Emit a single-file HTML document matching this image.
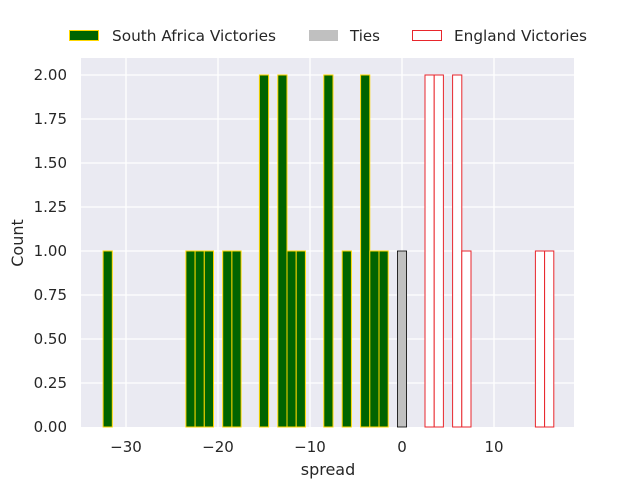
<!DOCTYPE html>
<html><head><meta charset="utf-8"><style>body{margin:0;background:#fff}svg{display:block}</style></head>
<body>
<svg width="640" height="480" xmlns="http://www.w3.org/2000/svg" font-family="DejaVu Sans, Liberation Sans, sans-serif" fill="#262626">
<rect width="640" height="480" fill="#fff"/>
<rect x="81" y="58" width="493" height="369" fill="#eaeaf2"/>
<g stroke="#fff" stroke-width="1.3">
<line x1="126" y1="58" x2="126" y2="427"/><line x1="218" y1="58" x2="218" y2="427"/><line x1="310" y1="58" x2="310" y2="427"/><line x1="402" y1="58" x2="402" y2="427"/><line x1="494" y1="58" x2="494" y2="427"/>
<line x1="81" y1="75" x2="574" y2="75"/><line x1="81" y1="119" x2="574" y2="119"/><line x1="81" y1="163" x2="574" y2="163"/><line x1="81" y1="207" x2="574" y2="207"/><line x1="81" y1="251" x2="574" y2="251"/><line x1="81" y1="295" x2="574" y2="295"/><line x1="81" y1="339" x2="574" y2="339"/><line x1="81" y1="383" x2="574" y2="383"/>
</g>
<g fill="#006400" stroke="#ffd700" stroke-width="1">
<rect x="103.1" y="251" width="9.2" height="176"/>
<rect x="185.9" y="251" width="9.2" height="176"/><rect x="195.1" y="251" width="9.2" height="176"/><rect x="204.3" y="251" width="9.2" height="176"/>
<rect x="222.7" y="251" width="9.2" height="176"/><rect x="231.9" y="251" width="9.2" height="176"/>
<rect x="259.4" y="75" width="9.2" height="352"/>
<rect x="277.8" y="75" width="9.2" height="352"/>
<rect x="287" y="251" width="9.2" height="176"/><rect x="296.2" y="251" width="9.2" height="176"/>
<rect x="323.8" y="75" width="9.2" height="352"/>
<rect x="342.2" y="251" width="9.2" height="176"/>
<rect x="360.6" y="75" width="9.2" height="352"/>
<rect x="369.8" y="251" width="9.2" height="176"/><rect x="379" y="251" width="9.2" height="176"/>
</g>
<rect x="397.4" y="251" width="9.2" height="176" fill="#c0c0c0" stroke="#000" stroke-width="0.8"/>
<g fill="#fff" stroke="#e8262c" stroke-width="1">
<rect x="425" y="75" width="9.2" height="352"/><rect x="434.2" y="75" width="9.2" height="352"/>
<rect x="452.6" y="75" width="9.2" height="352"/>
<rect x="461.8" y="251" width="9.2" height="176"/>
<rect x="535.4" y="251" width="9.2" height="176"/><rect x="544.6" y="251" width="9.2" height="176"/>
</g>
<g font-size="15" text-anchor="end">
<text x="67" y="80">2.00</text><text x="67" y="124">1.75</text><text x="67" y="168">1.50</text><text x="67" y="212">1.25</text><text x="67" y="256">1.00</text><text x="67" y="300">0.75</text><text x="67" y="344">0.50</text><text x="67" y="388">0.25</text><text x="67" y="432">0.00</text>
</g>
<g font-size="15" text-anchor="middle">
<text x="126" y="452">−30</text><text x="218" y="452">−20</text><text x="310" y="452">−10</text><text x="402" y="452">0</text><text x="494" y="452">10</text>
</g>
<text x="328" y="475" font-size="16" text-anchor="middle">spread</text>
<text transform="translate(23,243) rotate(-90)" font-size="16" text-anchor="middle">Count</text>
<rect x="69.5" y="30.5" width="29" height="10" fill="#006400" stroke="#ffd700"/>
<text x="112" y="41" font-size="15" textLength="164" lengthAdjust="spacingAndGlyphs">South Africa Victories</text>
<rect x="309" y="30" width="29" height="11" fill="#c0c0c0"/>
<text x="350" y="41" font-size="15">Ties</text>
<rect x="412.5" y="30.5" width="29" height="10" fill="#fff" stroke="#e8262c"/>
<text x="454" y="41" font-size="15" textLength="133" lengthAdjust="spacingAndGlyphs">England Victories</text>
</svg>
</body></html>
